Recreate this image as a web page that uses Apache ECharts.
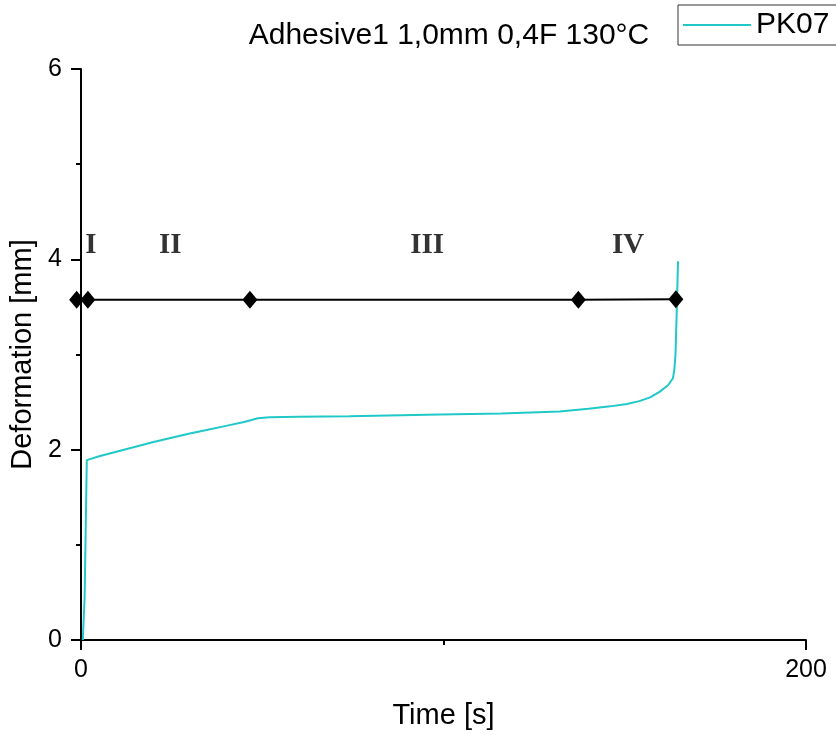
<!DOCTYPE html>
<html>
<head>
<meta charset="utf-8">
<script src="https://cdn.jsdelivr.net/npm/echarts@6/dist/echarts.min.js"></script>
<style>html,body{margin:0;padding:0;background:#fff;}#c{width:836px;height:735px;}</style>
</head>
<body>
<div id="c"></div>
<script>
// Cyan curve PK07: time [s] and deformation [mm]
const pkTime = [0.5, 1.0, 1.6, 5, 10, 15, 20, 25, 30, 35, 40, 45, 48.8, 52, 60, 74, 99, 116, 132, 140, 146, 150.6, 154, 157, 159.7, 162, 163.3, 163.7, 164.0, 164.3, 164.7];
const pkDef  = [0.0, 0.45, 1.89, 1.93, 1.98, 2.03, 2.08, 2.125, 2.17, 2.21, 2.25, 2.29, 2.33, 2.34, 2.345, 2.35, 2.37, 2.38, 2.40, 2.43, 2.455, 2.48, 2.51, 2.55, 2.61, 2.68, 2.75, 2.85, 3.0, 3.4, 3.98];
// Phase boundary markers (black line with diamonds)
const boundTime = [-1.2, 1.9, 46.6, 137.2, 164.1];
const boundDef  = [3.575, 3.575, 3.575, 3.575, 3.58];
// Phase labels
const phaseLabels = ['I', 'II', 'III', 'IV'];
const phaseTime = [2.7, 24.6, 95.5, 150.9];
const phaseDef  = [4.15, 4.15, 4.15, 4.15];
// Axis ticks
const xTicks = [0, 200];
const yTicks = [0, 2, 4, 6];

const chart = echarts.init(document.getElementById('c'), null, {renderer: 'canvas'});
const sans = '"Liberation Sans", Arial, sans-serif';
const serif = '"Liberation Serif", "Times New Roman", serif';

chart.setOption({
  animation: false,
  backgroundColor: '#fff',
  title: {
    text: 'Adhesive1 1,0mm 0,4F 130°C',
    left: 444, textAlign: 'center', top: 16,
    textStyle: {fontFamily: sans, fontSize: 30, fontWeight: 'normal', color: '#000'}
  },
  legend: {
    data: ['PK07'],
    left: 678, top: 5,
    orient: 'vertical',
    borderColor: '#333', borderWidth: 1,
    padding: [5, 30, 5, 5],
    itemWidth: 68, itemHeight: 2, itemGap: 0,
    textStyle: {fontFamily: sans, fontSize: 30, color: '#000'},
    icon: 'rect'
  },
  grid: {left: 81, right: 30, top: 69, bottom: 92, containLabel: false},
  xAxis: {
    type: 'value', min: xTicks[0], max: xTicks[xTicks.length-1], interval: 200,
    name: 'Time [s]', nameLocation: 'middle', nameGap: 61,
    nameTextStyle: {fontFamily: sans, fontSize: 29, color: '#000'},
    axisLine: {show: true, onZero: false, lineStyle: {color: '#000', width: 2}},
    axisTick: {show: true, length: 10, lineStyle: {color: '#000', width: 2}},
    minorTick: {show: true, splitNumber: 2, length: 5, lineStyle: {color: '#000', width: 2}},
    axisLabel: {fontFamily: sans, fontSize: 25, color: '#000', margin: 18},
    splitLine: {show: false}
  },
  yAxis: {
    type: 'value', min: yTicks[0], max: yTicks[yTicks.length-1], interval: 2,
    name: 'Deformation [mm]', nameLocation: 'middle', nameGap: 42,
    nameTextStyle: {fontFamily: sans, fontSize: 29, color: '#000'},
    axisLine: {show: true, onZero: false, lineStyle: {color: '#000', width: 2}},
    axisTick: {show: true, length: 10, lineStyle: {color: '#000', width: 2}},
    minorTick: {show: true, splitNumber: 2, length: 5, lineStyle: {color: '#000', width: 2}},
    axisLabel: {fontFamily: sans, fontSize: 25, color: '#000', margin: 19},
    splitLine: {show: false}
  },
  series: [
    {
      name: 'PK07', type: 'line', symbol: 'none', smooth: false,
      data: pkTime.map((t, i) => [t, pkDef[i]]),
      lineStyle: {color: '#20c8c8', width: 2},
      itemStyle: {color: '#20c8c8'},
      z: 3
    },
    {
      name: 'bounds', type: 'line', clip: false,
      symbol: 'diamond', symbolSize: [15, 18],
      data: boundTime.map((t, i) => [t, boundDef[i]]),
      lineStyle: {color: '#000', width: 2},
      itemStyle: {color: '#000'},
      z: 4
    },
    {
      name: 'phases', type: 'scatter', symbolSize: 1,
      itemStyle: {color: 'rgba(0,0,0,0)'},
      data: phaseTime.map((t, i) => [t, phaseDef[i]]),
      label: {
        show: true, position: 'inside',
        formatter: p => phaseLabels[p.dataIndex],
        fontFamily: serif, fontSize: 29, fontWeight: 'bold', color: '#000', textBorderWidth: 0
      },
      z: 5
    }
  ]
});
</script>
</body>
</html>
